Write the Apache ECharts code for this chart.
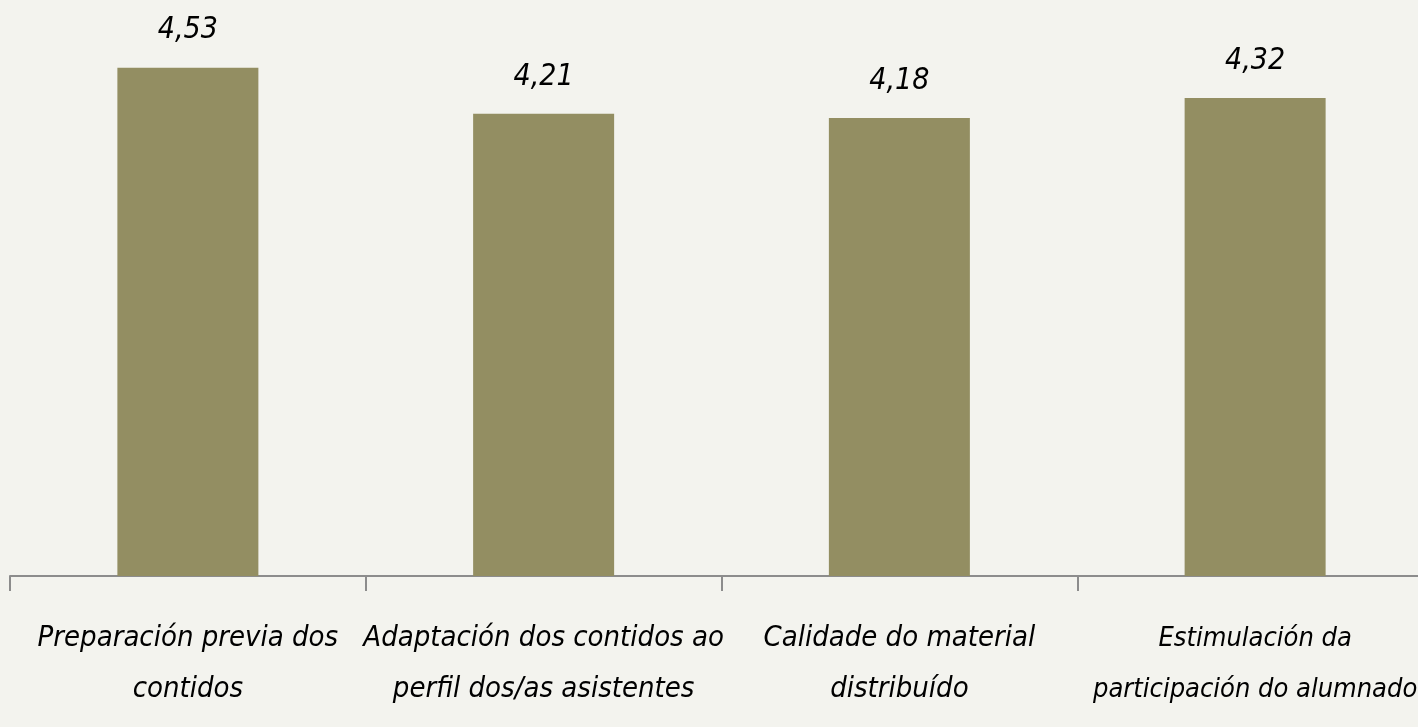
<!DOCTYPE html>
<html>
<head>
<meta charset="utf-8">
<script src="https://cdn.jsdelivr.net/npm/echarts@6/dist/echarts.min.js"></script>
<style>
html,body{margin:0;padding:0;background:#f3f3ee;overflow:hidden;width:1418px;height:727px;}
#chart{width:1433px;height:727px;}
</style>
</head>
<body>
<div id="chart"></div>
<script>
const categories = [
  "Preparación previa dos\ncontidos",
  "Adaptación dos contidos ao\nperfil dos/as asistentes",
  "Calidade do material\ndistribuído",
  "Estimulación da\nparticipación do alumnado"
];
const values = [4.53, 4.21, 4.18, 4.32];

const FONT = "'Liberation Sans Narrow', 'DejaVu Sans Condensed', sans-serif";
const chart = echarts.init(document.getElementById('chart'));
chart.setOption({
  backgroundColor: '#f3f3ee',
  animation: false,
  grid: { left: 10, top: 0, bottom: 151, right: 0 },
  xAxis: {
    type: 'category',
    data: categories,
    boundaryGap: true,
    axisLine: { lineStyle: { color: '#8c8c8c', width: 2 } },
    axisTick: { show: true, length: 15, lineStyle: { color: '#8c8c8c', width: 2 } },
    axisLabel: {
      interval: 0,
      margin: 37,
      fontFamily: FONT,
      fontStyle: 'italic',
      fontSize: 29,
      lineHeight: 51,
      color: '#000',
      formatter: (v, i) => i === 3 ? v.split('\n').map(l => '{s|' + l + '}').join('\n') : v,
      rich: {
        s: { fontFamily: FONT, fontStyle: 'italic', fontSize: 27, lineHeight: 51, color: '#000' }
      }
    }
  },
  yAxis: {
    type: 'value',
    min: 1,
    max: 5,
    show: false,
    splitLine: { show: false }
  },
  series: [{
    type: 'bar',
    data: values,
    barWidth: 141,
    itemStyle: { color: '#938e62' },
    label: {
      show: true,
      position: 'top',
      distance: 22,
      fontFamily: FONT,
      fontStyle: 'italic',
      fontSize: 30,
      color: '#000',
      formatter: p => p.value.toFixed(2).replace('.', ',')
    }
  }]
});
</script>
</body>
</html>
